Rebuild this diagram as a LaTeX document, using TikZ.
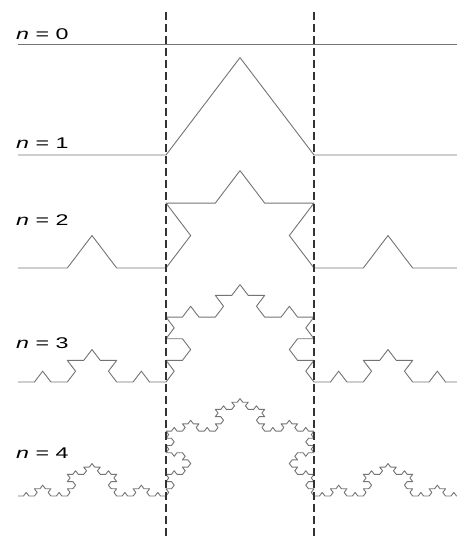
\documentclass[tikz,border=0pt]{standalone}
\usepackage{fontspec}
\setmainfont{Liberation Sans}
\usetikzlibrary{lindenmayersystems}
\pgfdeclarelindenmayersystem{Koch}{\rule{F -> F+F--F+F}}
\begin{document}
\begin{tikzpicture}[x=1pt,y=1pt,
  koch/.style={draw=black!55, line width=0.9pt, line join=round},
  guide/.style={draw=black!80, line width=1.2pt, dash pattern=on 8pt off 4pt},
  lab/.style={anchor=base west, inner sep=0pt, font=\fontsize{15.5}{16}\selectfont}]
\useasboundingbox (0,0) rectangle (457,-539);
\clip (0,0) rectangle (457,-539);
% n = 0 .. 4
\foreach \n/\yb in {0/44,1/155,2/268,3/382,4/496}{
  \pgfmathsetmacro{\st}{444/(3^\n)}
  \begin{scope}[shift={(18,-\yb)}, yscale=0.76]
    \draw[koch, lindenmayer system={Koch, axiom=F, order=\n, step=\st pt, angle=60}] (0,0) lindenmayer system;
  \end{scope}
}
% labels
\node[lab] (l0) at (16,-39)  {\scalebox{1.5}[1]{\textit{n} = 0}};
\node[lab] (l1) at (16,-148) {\scalebox{1.5}[1]{\textit{n} = 1}};
\node[lab] (l2) at (16,-225) {\scalebox{1.5}[1]{\textit{n} = 2}};
\node[lab] (l3) at (16,-348) {\scalebox{1.5}[1]{\textit{n} = 3}};
\node[lab] (l4) at (16,-458) {\scalebox{1.5}[1]{\textit{n} = 4}};
% guides
\coordinate (g1t) at (166,-12); \coordinate (g1b) at (166,-539);
\coordinate (g2t) at (314,-12); \coordinate (g2b) at (314,-539);
\draw[guide] (g1t) -- (g1b);
\draw[guide] (g2t) -- (g2b);
\end{tikzpicture}
\end{document}
